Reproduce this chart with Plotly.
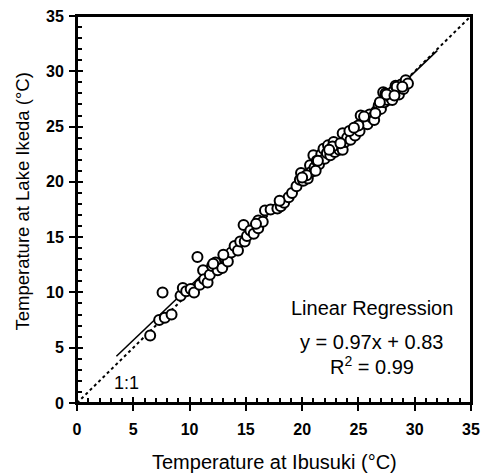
import plotly.graph_objects as go

ibusuki = [6.5, 7.3, 7.6, 7.8, 8.4, 9.2, 9.4, 9.7, 10.1, 10.4, 10.7, 10.9, 11.2, 11.3, 11.6,
           11.8, 12.0, 12.3, 12.5, 12.9, 13.2, 13.4, 13.7, 14.0, 14.3, 14.5, 14.8, 14.9, 15.1,
           15.4, 15.7, 16.1, 16.1, 16.5, 16.7, 17.2, 17.8, 18.1, 18.4, 18.8, 19.1, 19.5, 19.8,
           19.9, 20.1, 20.3, 20.5, 20.7, 20.8, 21.0, 21.1, 21.3, 21.5, 21.7, 21.9, 22.0, 22.2,
           22.3, 22.5, 22.6, 22.8, 22.9, 23.1, 23.3, 23.6, 23.6, 23.8, 24.0, 24.3, 24.5, 24.7,
           24.9, 25.1, 25.2, 25.4, 25.6, 25.8, 26.0, 26.2, 26.4, 26.6, 26.8, 27.0, 27.2, 27.3,
           27.4, 27.6, 27.8, 28.0, 28.1, 28.3, 28.5, 28.6, 28.8, 29.0, 29.2, 29.4,
           12.1, 13.0, 15.9, 18.0, 20.4, 21.4, 22.7, 24.2, 25.0, 26.9, 28.4,
           20.0, 21.2, 22.4, 23.4, 24.6, 25.5, 26.5, 27.5, 28.2, 28.9]
ikeda = [6.1, 7.5, 10.0, 7.7, 8.0, 9.7, 10.4, 10.1, 10.3, 10.0, 13.2, 10.7, 12.0, 11.2, 10.9,
         11.6, 12.4, 12.7, 12.0, 12.2, 13.0, 12.8, 13.6, 14.2, 13.8, 14.6, 16.1, 14.6, 15.1,
         15.6, 15.3, 15.8, 16.5, 16.4, 17.4, 17.5, 17.6, 17.8, 18.1, 18.6, 19.0, 19.6, 20.2,
         20.8, 20.1, 20.5, 20.3, 21.5, 20.9, 22.4, 21.3, 21.9, 21.6, 22.5, 23.0, 22.1, 22.6,
         23.3, 22.4, 23.0, 23.6, 22.7, 23.2, 22.9, 24.4, 22.9, 23.6, 24.0, 23.8, 24.5, 24.2,
         25.0, 24.6, 26.0, 25.3, 25.7, 25.2, 26.1, 25.8, 25.6, 26.4, 26.9, 26.6, 28.1, 27.2,
         28.0, 27.4, 27.7, 27.4, 28.2, 28.7, 28.5, 27.9, 28.8, 28.4, 29.2, 28.9,
         12.6, 13.4, 16.2, 18.3, 20.6, 21.9, 23.2, 24.6, 25.1, 27.2, 28.6,
         20.4, 21.0, 22.9, 23.5, 24.9, 25.9, 26.2, 27.9, 27.8, 28.6]

slope, intercept = 0.97, 0.83
fit_x = [3.5, 32.0]
one_x = [0.0, 35.0]
x_ticks = [0, 5, 10, 15, 20, 25, 30, 35]
x_title = "Temperature at Ibusuki (°C)"
y_title = "Temperature at Lake Ikeda (°C)"

font = "Liberation Sans, Arial, sans-serif"

fig = go.Figure()
fig.add_trace(go.Scatter(x=one_x, y=one_x, mode="lines",
                         line=dict(color="black", width=2, dash="dot"), hoverinfo="skip"))
fig.add_trace(go.Scatter(x=fit_x, y=[slope * v + intercept for v in fit_x], mode="lines",
                         line=dict(color="black", width=1.6), hoverinfo="skip"))
fig.add_trace(go.Scatter(x=ibusuki, y=ikeda, mode="markers",
                         marker=dict(symbol="circle", size=10, color="white",
                                     line=dict(color="black", width=2))))
fig.add_trace(go.Scatter(x=[0], y=[0], xaxis="x2", yaxis="y2", mode="markers",
                         marker=dict(opacity=0), hoverinfo="skip"))

axis_common = dict(range=[0, 35], showgrid=False, zeroline=False, showline=True,
                   linecolor="black", linewidth=2, mirror=True, automargin=False,
                   ticks="outside", ticklen=6, tickwidth=2, tickcolor="black",
                   tickvals=x_ticks, ticklabeloverflow="allow",
                   tickfont=dict(family=font, size=16, color="black", weight="bold"),
                   minor=dict(ticks="inside", dtick=1, ticklen=5, tickwidth=1.5,
                              tickcolor="black", showgrid=False))

fig.update_layout(
    width=482, height=476,
    margin=dict(l=77, r=11, t=16, b=73),
    paper_bgcolor="white", plot_bgcolor="white",
    showlegend=False,
    font=dict(family=font, color="black"),
    xaxis=dict(**axis_common, ticklabelstandoff=5),
    yaxis=dict(**axis_common, ticklabelstandoff=2),
    xaxis2=dict(range=[0, 35], overlaying="x", anchor="y2", side="bottom", showgrid=False,
                zeroline=False, showline=False, ticks="inside", ticklen=6, tickwidth=2,
                tickcolor="black", tickvals=x_ticks, showticklabels=False, automargin=False),
    yaxis2=dict(range=[0, 35], overlaying="y", anchor="x2", side="left", showgrid=False,
                zeroline=False, showline=False, ticks="inside", ticklen=6, tickwidth=2,
                tickcolor="black", tickvals=x_ticks, showticklabels=False, automargin=False),
    shapes=[dict(type="rect", xref="paper", yref="paper", x0=0, x1=1, y0=0, y1=1,
                 line=dict(color="black", width=2), layer="above")],
    annotations=[
        dict(xref="paper", yref="paper", x=0.5, y=0, yshift=-59, text=x_title,
             showarrow=False, font=dict(size=20), xanchor="center", yanchor="middle"),
        dict(xref="paper", yref="paper", x=0, y=0.5, xshift=-55, yshift=8, text=y_title,
             showarrow=False, font=dict(size=18.5), textangle=-90,
             xanchor="center", yanchor="middle"),
        dict(x=4.4, y=1.8, text="1:1", showarrow=False, font=dict(size=18)),
        dict(x=26.2, y=8.6, text="Linear Regression", showarrow=False, font=dict(size=20)),
        dict(x=26.2, y=5.5, text="y = 0.97x + 0.83", showarrow=False, font=dict(size=20)),
        dict(x=26.2, y=3.4, text="R<sup>2</sup> = 0.99", showarrow=False, font=dict(size=20)),
    ],
)

# Remove the default page margin so the 482x476 figure fills the window exactly.
fig.write_html("out.html",
               config={"displayModeBar": False},
               post_script="document.body.style.margin='0';"
                           "document.body.style.overflow='hidden';")
